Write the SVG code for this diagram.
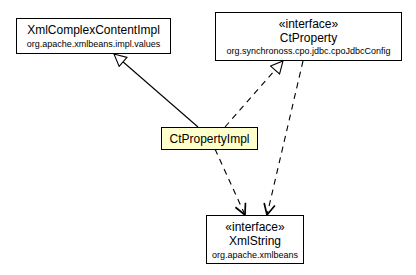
<svg xmlns="http://www.w3.org/2000/svg" width="416" height="275" viewBox="0 0 416 275">
  <style>
    .box { fill: #ffffff; stroke: #000000; stroke-width: 1; }
    .impl { fill: #ffffcc; }
    .name { font-family: "Liberation Sans", Arial, sans-serif; font-size: 12px; text-anchor: middle; fill: #000000; }
    .pkg { font-family: "Liberation Sans", Arial, sans-serif; font-size: 9px; text-anchor: middle; fill: #000000; }
    .edge { fill: none; stroke: #000000; stroke-width: 1.1; }
    .dashed { stroke-dasharray: 6,5; }
  </style>
  <defs>
    <marker id="hollow" markerUnits="userSpaceOnUse" markerWidth="14" markerHeight="14" viewBox="0 0 14 14" refX="13" refY="7" orient="auto">
      <path d="M1,1 L13,7 L1,13 Z" fill="#ffffff" stroke="#000000" stroke-width="1.1"/>
    </marker>
    <marker id="open" markerUnits="userSpaceOnUse" markerWidth="14" markerHeight="14" viewBox="0 0 14 14" refX="12.5" refY="7" orient="auto">
      <path d="M1.5,1.5 L12.5,7 L1.5,12.5" fill="none" stroke="#000000" stroke-width="1.7"/>
    </marker>
  </defs>

  <rect width="416" height="275" fill="#ffffff"/>

  <g id="connectors">
    <!-- CtPropertyImpl extends XmlComplexContentImpl -->
    <path class="edge" d="M198,127 L114,54" marker-end="url(#hollow)"/>
    <!-- CtPropertyImpl implements CtProperty -->
    <path class="edge dashed" d="M225,127 L283,61" marker-end="url(#hollow)"/>
    <!-- CtPropertyImpl uses XmlString -->
    <path class="edge dashed" d="M215,149 L245,215" marker-end="url(#open)"/>
    <!-- CtProperty uses XmlString -->
    <path class="edge dashed" d="M303,61 L267,215" marker-end="url(#open)"/>
  </g>

  <g id="XmlComplexContentImpl">
    <rect class="box" x="16.5" y="18.5" width="154" height="35"/>
    <text class="name" x="93.5" y="34">XmlComplexContentImpl</text>
    <text class="pkg" x="93.5" y="47">org.apache.xmlbeans.impl.values</text>
  </g>

  <g id="CtProperty">
    <rect class="box" x="215.5" y="12.5" width="186" height="48"/>
    <text class="name" x="308.5" y="28">«interface»</text>
    <text class="name" x="308.5" y="42">CtProperty</text>
    <text class="pkg" x="308.5" y="54">org.synchronoss.cpo.jdbc.cpoJdbcConfig</text>
  </g>

  <g id="CtPropertyImpl">
    <rect class="box impl" x="161.5" y="127.5" width="96" height="22"/>
    <text class="name" x="209.5" y="143">CtPropertyImpl</text>
  </g>

  <g id="XmlString">
    <rect class="box" x="206.5" y="215.5" width="97" height="48"/>
    <text class="name" x="255" y="231">«interface»</text>
    <text class="name" x="255" y="245">XmlString</text>
    <text class="pkg" x="255" y="258">org.apache.xmlbeans</text>
  </g>
</svg>
